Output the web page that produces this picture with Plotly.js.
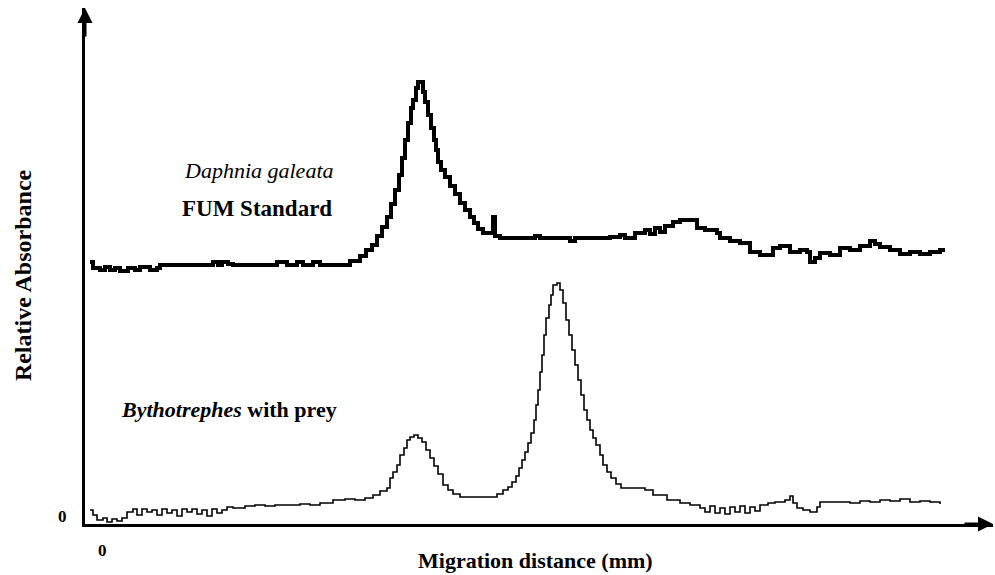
<!DOCTYPE html>
<html>
<head>
<meta charset="utf-8">
<script src="https://cdn.plot.ly/plotly-3.0.1.min.js"></script>
<style>html,body{margin:0;padding:0;background:#fff;}#chart{width:995px;height:575px;}</style>
</head>
<body>
<div id="chart"></div>
<script>
// Migration distance (mm) and relative absorbance
const daphniaX = [0.3,0.6,1.3,1.8,2.3,2.8,3.3,4.1,4.8,5.3,6.3,7.0,7.3,12.6,13.1,13.5,14.1,14.6,19.0,20.0,21.0,21.6,22.6,23.3,
  26.3,27.3,27.9,28.5,29.0,29.5,30.0,30.4,30.8,31.2,31.5,31.8,32.1,32.4,32.6,32.9,33.1,33.4,33.6,33.8,34.1,34.4,34.7,34.9,35.1,35.4,35.8,
  36.3,36.8,37.3,37.8,38.3,38.7,39.1,39.6,40.3,40.6,40.8,41.3,44.3,44.8,45.3,47.3,48.3,48.8,51.3,52.3,53.3,53.8,54.8,55.8,56.3,56.8,57.3,
  57.8,58.6,59.3,60.6,61.0,61.8,63.0,63.3,64.3,65.3,66.3,67.3,68.6,69.3,70.3,71.3,72.0,72.3,72.8,73.3,74.3,75.3,76.3,77.3,78.3,78.8,79.3,
  80.3,81.3,82.3,83.3,84.3,85.3,85.6];
const daphniaY = [26.2,25.6,25.4,25.7,25.4,25.6,25.3,25.6,25.4,25.7,25.4,25.6,25.9,26.2,25.9,26.2,26.0,25.9,26.2,25.9,26.2,25.9,26.2,25.9,
  26.3,26.8,27.4,27.9,28.8,29.7,30.7,32.0,33.4,34.9,36.6,38.4,40.1,41.6,42.4,43.6,44.2,44.2,43.2,42.2,40.9,39.6,38.4,37.4,36.2,35.4,34.7,
  33.8,33.0,32.1,31.4,30.7,30.1,29.5,29.1,29.1,30.7,28.8,28.6,28.6,28.8,28.6,28.6,28.3,28.6,28.6,28.7,28.9,28.6,29.1,29.4,29.0,29.6,29.2,
  29.8,30.2,30.4,30.4,29.6,29.4,29.1,28.6,28.3,28.1,27.2,26.9,27.6,27.8,27.2,27.4,27.2,26.2,26.6,27.1,26.9,27.6,27.4,27.8,28.3,28.0,27.7,
  27.4,27.0,27.2,27.0,27.2,27.4,27.6];

const bythoX = [0.3,0.6,1.0,1.6,2.0,2.5,3.0,3.5,4.0,4.6,5.0,5.5,6.0,6.5,7.0,7.5,8.0,8.5,9.0,9.5,10.0,10.5,11.0,11.5,12.0,12.5,13.0,13.5,
  14.0,14.6,15.8,16.8,17.8,18.8,20.3,21.3,22.3,23.3,24.6,25.8,26.8,27.8,28.6,29.3,30.0,30.3,30.6,31.0,31.3,31.7,32.0,32.3,32.7,33.1,33.5,
  33.9,34.3,34.7,35.1,35.6,36.1,36.6,37.3,39.3,41.0,41.6,42.1,42.5,42.9,43.2,43.5,43.8,44.1,44.4,44.7,44.9,45.1,45.3,45.5,45.7,45.9,46.2,
  46.4,46.6,47.0,47.3,47.6,47.9,48.2,48.5,48.8,49.1,49.4,49.7,50.0,50.3,50.6,50.9,51.3,51.6,52.0,52.4,52.9,53.4,54.3,55.8,56.6,58.0,59.3,
  60.3,61.3,61.8,62.3,62.8,63.3,63.8,64.3,64.8,65.3,65.8,66.3,66.8,67.3,68.1,68.8,69.8,70.3,70.6,71.0,71.6,72.3,73.0,73.3,74.8,76.3,77.3,
  78.3,79.3,80.3,81.3,82.3,83.3,84.3,85.3];
const bythoY = [1.4,0.9,0.4,0.6,0.2,0.5,0.3,0.6,1.2,1.5,0.9,1.5,1.2,1.4,0.9,1.5,1.1,1.4,0.8,1.5,1.2,1.5,1.0,1.4,0.8,1.5,1.1,1.4,
  1.7,1.6,1.8,1.9,1.8,1.9,1.9,2.0,1.9,2.1,2.4,2.5,2.4,2.6,2.9,3.3,3.6,4.6,5.2,5.9,6.9,7.6,8.4,8.7,8.9,8.6,8.2,
  7.4,6.6,5.8,5.0,3.9,3.4,3.0,2.7,2.7,3.0,3.4,3.7,4.2,4.8,5.6,6.4,7.2,8.1,9.1,10.4,11.9,13.4,15.2,16.9,18.9,20.6,21.9,
  22.9,23.9,24.1,23.4,22.1,20.4,18.9,17.4,15.9,14.4,12.9,11.4,10.4,9.4,8.6,7.9,6.9,5.9,5.2,4.6,4.0,3.6,3.6,3.4,2.9,2.4,2.1,
  1.9,1.6,1.2,1.8,1.1,1.6,1.0,1.7,1.2,1.8,1.1,1.7,1.3,1.9,2.1,2.2,2.4,2.8,2.1,1.6,1.4,1.2,1.7,2.2,2.2,2.1,2.3,
  2.2,2.4,2.3,2.5,2.2,2.3,2.2,2.0];

const xLabel = 'Migration distance (mm)';
const yLabel = 'Relative Absorbance';
const zeroTick = '0';

const serif = 'Liberation Serif';

const traces = [
  {x: daphniaX, y: daphniaY, type: 'scatter', mode: 'lines', name: 'Daphnia galeata FUM Standard',
   line: {shape: 'hv', color: '#000', width: 4}, hoverinfo: 'skip', cliponaxis: false},
  {x: bythoX, y: bythoY, type: 'scatter', mode: 'lines', name: 'Bythotrephes with prey',
   line: {shape: 'hv', color: '#000', width: 1.6}, hoverinfo: 'skip', cliponaxis: false}
];

const layout = {
  width: 995, height: 575,
  margin: {l: 85, r: 2, t: 8, b: 51, pad: 0},
  paper_bgcolor: '#fff', plot_bgcolor: '#fff',
  showlegend: false,
  font: {family: serif, color: '#000'},
  xaxis: {range: [-0.2, 90.6], showline: true, linewidth: 3, linecolor: '#000',
    showgrid: false, zeroline: false, ticks: '', showticklabels: false, fixedrange: true},
  yaxis: {range: [0, 51.6], showline: true, linewidth: 3, linecolor: '#000',
    showgrid: false, zeroline: false, ticks: '', showticklabels: false, fixedrange: true},
  annotations: [
    {xref: 'paper', yref: 'paper', x: 0, y: 1, ax: 0, ay: 30, text: '', showarrow: true,
     arrowhead: 2, arrowsize: 1, arrowwidth: 3, arrowcolor: '#000', standoff: 0},
    {xref: 'paper', yref: 'paper', x: 1, y: 0, ax: -30, ay: 0, text: '', showarrow: true,
     arrowhead: 2, arrowsize: 1, arrowwidth: 3, arrowcolor: '#000', standoff: 0},
    {xref: 'paper', yref: 'paper', x: 0.107, y: 0.686, xanchor: 'left', yanchor: 'middle', showarrow: false,
     text: '<i>Daphnia galeata</i>', font: {family: serif, size: 22, color: '#000'}},
    {xref: 'paper', yref: 'paper', x: 0.105, y: 0.612, xanchor: 'left', yanchor: 'middle', showarrow: false,
     text: '<b>FUM Standard</b>', font: {family: serif, size: 23, color: '#000'}},
    {xref: 'paper', yref: 'paper', x: 0.037, y: 0.221, xanchor: 'left', yanchor: 'middle', showarrow: false,
     text: '<b><i>Bythotrephes</i> with prey</b>', font: {family: serif, size: 22, color: '#000'}},
    {xref: 'paper', yref: 'paper', x: -0.069, y: 0.483, xanchor: 'center', yanchor: 'middle', showarrow: false,
     textangle: -90, text: '<b>' + yLabel + '</b>', font: {family: serif, size: 24, color: '#000'}},
    {xref: 'paper', yref: 'paper', x: 0.496, y: -0.07, xanchor: 'center', yanchor: 'middle', showarrow: false,
     text: '<b>' + xLabel + '</b>', font: {family: serif, size: 22, color: '#000'}},
    {xref: 'paper', yref: 'paper', x: 0.019, y: -0.052, xanchor: 'center', yanchor: 'middle', showarrow: false,
     text: '<b>' + zeroTick + '</b>', font: {family: serif, size: 17, color: '#000'}},
    {xref: 'paper', yref: 'paper', x: -0.025, y: 0.014, xanchor: 'center', yanchor: 'middle', showarrow: false,
     text: '<b>' + zeroTick + '</b>', font: {family: serif, size: 17, color: '#000'}}
  ]
};

Plotly.newPlot('chart', traces, layout, {staticPlot: true, displayModeBar: false});
</script>
</body>
</html>
